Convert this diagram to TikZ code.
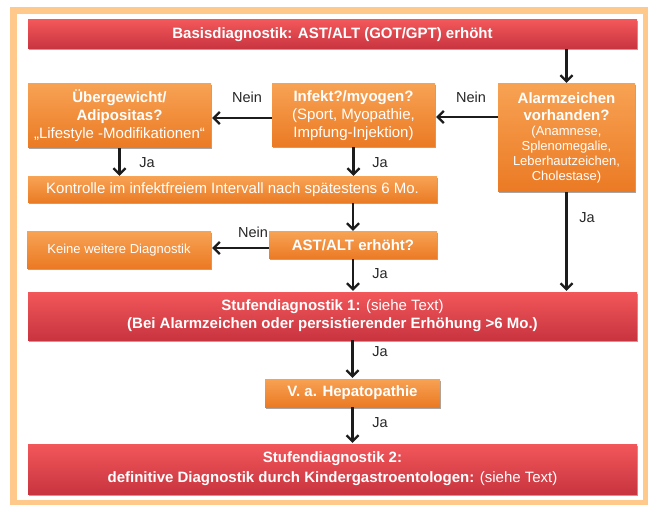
\documentclass[tikz,border=0pt]{standalone}
\usepackage{fontspec}
\setmainfont{Liberation Sans}
\usetikzlibrary{arrows.meta,shadows}

\definecolor{rahmen}{HTML}{FFC98B}
\definecolor{rotoben}{HTML}{F2575A}
\definecolor{rotunten}{HTML}{C8343F}
\definecolor{orangeoben}{HTML}{F7A253}
\definecolor{orangeunten}{HTML}{EB7A24}
\definecolor{pfeilgrau}{HTML}{1C1C1C}

\newcommand{\klein}{\fontsize{13}{15}\selectfont}

\tikzset{
  box/.style={inner sep=0pt, align=center, text=white,
    font=\fontsize{15}{18}\selectfont,
    drop shadow={shadow xshift=1.2pt, shadow yshift=-1.5pt, opacity=0.35, fill=black}},
  rotbox/.style={box, top color=rotoben, bottom color=rotunten, minimum width=609pt},
  orangebox/.style={box, top color=orangeoben, bottom color=orangeunten},
  pfeil/.style={line width=2.4pt, draw=pfeilgrau, shorten >=1pt,
    -{Straight Barb[length=6pt,width=12pt,line width=2.2pt]}},
  antwort/.style={text=black!85, font=\fontsize{14.5}{16}\selectfont, inner sep=0pt},
}

\begin{document}
\begin{tikzpicture}[x=1pt,y=-1pt]
    \useasboundingbox (0,0) rectangle (648,505);
    \draw [rahmen, line width=7pt] (13.5,10.5) rectangle (646,503.5);

    % Kaesten
    \node [rotbox, minimum height=29pt] (basis) at (332.5,34.5) {\textbf{Basisdiagnostik: AST/ALT (GOT/GPT) erhöht}};
    \node [orangebox, minimum width=183pt, minimum height=64pt] (ueber) at (119.5,116)
        {\textbf{Übergewicht/}\\\textbf{Adipositas?}\\„Lifestyle -Modifikationen“};
    \node [orangebox, minimum width=163pt, minimum height=63pt] (infekt) at (353.5,115.5)
        {\textbf{Infekt?/myogen?}\\(Sport, Myopathie,\\Impfung-Injektion)};
    \node [orangebox, minimum width=137pt, minimum height=108pt] (alarm) at (566.5,138)
        {\textbf{Alarmzeichen}\\[-1pt]\textbf{vorhanden?}\\[-3pt]{\klein(Anamnese,}\\[-3pt]{\klein Splenomegalie,}\\[-3pt]{\klein Leberhautzeichen,}\\[-3pt]{\klein Cholestase)}};
    \node [orangebox, minimum width=409pt, minimum height=26pt] (kontrolle) at (232.5,190)
        {Kontrolle im infektfreiem Intervall nach spätestens 6 Mo.};
    \node [orangebox, minimum width=184pt, minimum height=36pt, font=\klein] (keine) at (119,250)
        {Keine weitere Diagnostik};
    \node [orangebox, minimum width=168pt, minimum height=27pt] (ast) at (353,245.5) {\textbf{AST/ALT erhöht?}};
    \node [rotbox, minimum height=48pt] (stufe1) at (332.5,316)
        {\textbf{Stufendiagnostik 1:} (siehe Text)\\\textbf{(Bei Alarmzeichen oder persistierender Erhöhung >6 Mo.)}};
    \node [orangebox, minimum width=175pt, minimum height=28pt] (hepa) at (352.5,393) {\textbf{V. a. Hepatopathie}};
    \node [rotbox, minimum height=50pt, font=\fontsize{15}{20}\selectfont] (stufe2) at (332.5,469)
        {\textbf{Stufendiagnostik 2:}\\\textbf{definitive Diagnostik durch Kindergastroentologen:} (siehe Text)};

    % Pfeile
    \draw [pfeil] (alarm.north |- basis.south) -- (alarm.north);
    \draw [pfeil] (alarm.west |- 0,117) -- (infekt.east |- 0,117);
    \draw [pfeil] (infekt.west |- 0,118) -- (ueber.east |- 0,118);
    \draw [pfeil] (ueber.south) -- (ueber.south |- kontrolle.north);
    \draw [pfeil] (infekt.south) -- (infekt.south |- kontrolle.north);
    \draw [pfeil] (ast.north |- kontrolle.south) -- (ast.north);
    \draw [pfeil] (ast.west |- 0,248) -- (keine.east |- 0,248);
    \draw [pfeil] (ast.south) -- (ast.south |- stufe1.north);
    \draw [pfeil] (alarm.south) -- (alarm.south |- stufe1.north);
    \draw [pfeil] (hepa.north |- stufe1.south) -- (hepa.north);
    \draw [pfeil] (hepa.south) -- (hepa.south |- stufe2.north);

    % Beschriftungen
    \node [antwort] (nein1) at (247,97) {Nein};
    \node [antwort] (nein2) at (471,97) {Nein};
    \node [antwort] (nein3) at (253,232) {Nein};
    \node [antwort] (ja1) at (147,163) {Ja};
    \node [antwort] (ja2) at (380,163) {Ja};
    \node [antwort] (ja3) at (587,218) {Ja};
    \node [antwort] (ja4) at (380,274) {Ja};
    \node [antwort] (ja5) at (380,352) {Ja};
    \node [antwort] (ja6) at (380,423) {Ja};
\end{tikzpicture}
\end{document}
